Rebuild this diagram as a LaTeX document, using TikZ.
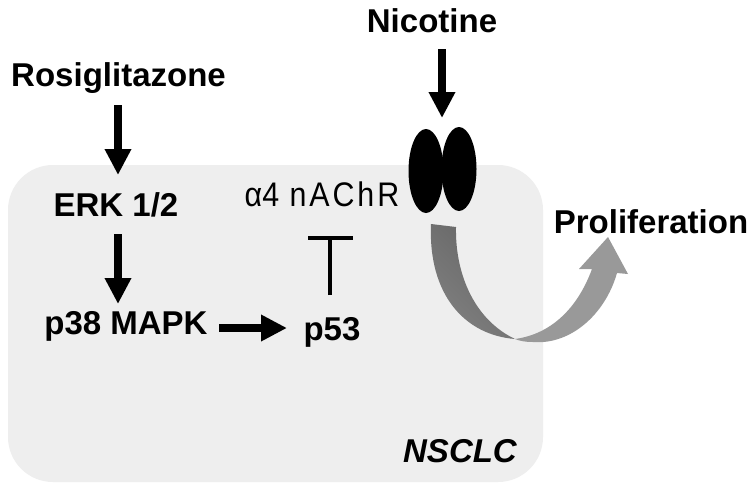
\documentclass[tikz,border=0pt]{standalone}
\usepackage{fontspec}
\setmainfont{Liberation Sans}
\usetikzlibrary{arrows.meta}
\usetikzlibrary{shapes.geometric}
\definecolor{cellgray}{HTML}{EEEEEE}
\definecolor{darkflow}{HTML}{6A6A6A}
\definecolor{lightflow}{HTML}{999999}
\tikzset{
  lbl/.style={inner sep=0pt,font=\fontsize{33}{38}\selectfont\bfseries},
  fatarrow/.style={line width=8.5pt,-{Triangle[length=26pt,width=25pt]}},
  lobe/.style={fill=black,draw=none,ellipse,minimum width=35pt,minimum height=84pt,inner sep=0pt}
}
\begin{document}
\begin{tikzpicture}[x=1pt,y=-1pt]
\useasboundingbox (0,0) rectangle (752,488);
\fill[white] (0,0) rectangle (752,488);
\fill[cellgray,rounded corners=45pt] (8,165) rectangle (543,482);
% curved flow
\fill[lightflow] (515,339) .. controls (545,335) and (575,315) .. (592,269) -- (579,269) -- (608,237) -- (628,274) -- (617,273)
  .. controls (605,315) and (570,345) .. (533,342) .. controls (525,342) and (520,341) .. (515,339) -- cycle;
\shade[left color=darkflow!85!white,right color=darkflow!95!black,shading angle=135] (431,224) -- (456,227)
  .. controls (455,275) and (475,320) .. (515,339) .. controls (465,335) and (428,295) .. (431,224) -- cycle;
% receptor
\node[lobe] (lobeL) at (426,171) {};
\node[lobe] (lobeR) at (459,169) {};
% labels
\node[lbl] (nic) at (432,21) {Nicotine};
\node[lbl] (ros) at (118.5,78) {Rosiglitazone};
\node[lbl] (erk) at (116,205) {ERK 1/2};
\node[lbl] (p38) at (126,326) {p38 MAPK};
\node[lbl] (p53) at (332,332) {p53};
\node[lbl] (pro) at (651,222) {Proliferation};
\node[inner sep=0pt,font=\fontsize{31}{36}\selectfont] (ach) at (322,194) {\scalebox{0.98}[1.1]{α4 \kern2pt n\kern3pt A\kern3pt C\kern3pt h\kern3pt R}};
\node[lbl,font=\fontsize{33}{38}\selectfont\bfseries\itshape] (cell) at (460,451) {NSCLC};
% arrows
\coordinate (a1s) at (118,105);
\coordinate (a1e) at (118,175);
\coordinate (a2s) at (118,234);
\coordinate (a2e) at (118,304);
\coordinate (a3s) at (219,328);
\coordinate (a3e) at (287,328);
\coordinate (a4s) at (442,49);
\coordinate (a4e) at (442,118);
\coordinate (ts) at (330,295);
\coordinate (te) at (330,238);
\coordinate (tl) at (308,238);
\coordinate (tr) at (353,238);
\draw[fatarrow] (a1s) -- (a1e);
\draw[fatarrow] (a2s) -- (a2e);
\draw[fatarrow] (a3s) -- (a3e);
\draw[fatarrow] (a4s) -- (a4e);
\draw[line width=4pt] (ts) -- (te);
\draw[line width=4pt] (tl) -- (tr);
\end{tikzpicture}
\end{document}
